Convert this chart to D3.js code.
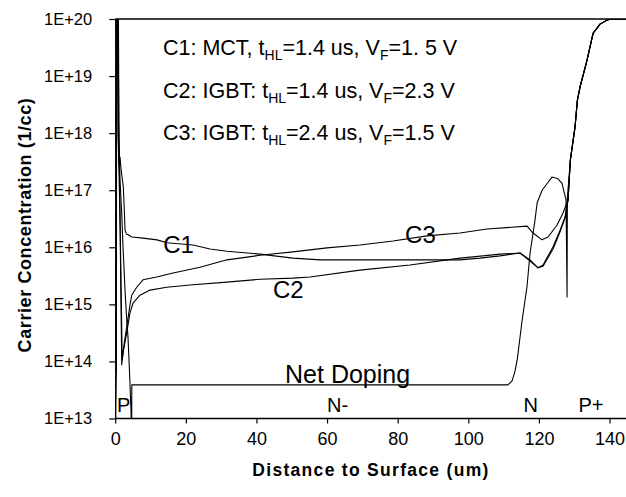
<!DOCTYPE html>
<html>
<head>
<meta charset="utf-8">
<script src="https://cdn.jsdelivr.net/npm/d3@7"></script>
<style>
  html, body { margin: 0; padding: 0; background: #fff; }
  svg { display: block; font-family: "Liberation Sans", Arial, sans-serif; }
</style>
</head>
<body>
<svg id="chart" width="626" height="497"></svg>
<script>
// Axis ticks
const xTicks = [0, 20, 40, 60, 80, 100, 120, 140];
const yTickExponents = [13, 14, 15, 16, 17, 18, 19, 20];
const yTickLabels = ["1E+13", "1E+14", "1E+15", "1E+16", "1E+17", "1E+18", "1E+19", "1E+20"];

// Profiles: [distance (um), log10 of concentration (1/cc)]
const netDoping = [
  [0, 12.9], [0.35, 13.9], [0.4, 20.4], [0.8, 20.4], [1.0, 18.2], [1.36, 17.18],
  [1.84, 16.6], [2.21, 16.01], [2.78, 15.25], [3.26, 14.73], [3.62, 14.43],
  [4.1, 13.75], [4.47, 13.15], [4.6, 12.8], [4.67, 12.8], [4.7, 13.59],
  [111.24, 13.59], [112.4, 13.66], [113.2, 13.82], [113.9, 14.05], [115.2, 14.7],
  [116.6, 15.3], [117.5, 15.9], [118.9, 16.48], [119.5, 16.78], [120.9, 17.0],
  [122.6, 17.14], [123.7, 17.23], [125.4, 17.2], [126.55, 17.12], [127.12, 16.97],
  [127.68, 16.83], [127.97, 15.13], [128.05, 16.86]
];
const c1 = [
  [0.9, 20.3], [1.1, 17.45], [1.36, 17.58], [1.6, 17.4], [2.0, 17.2], [2.29, 17.06],
  [2.58, 16.65], [2.78, 16.3], [3.2, 16.23], [3.71, 16.22], [4.76, 16.18],
  [7.87, 16.16], [11.84, 16.13], [14.67, 16.08], [22.03, 16.04], [26.85, 15.97],
  [31.66, 15.93], [41.01, 15.88], [50.35, 15.81], [58.0, 15.78], [97.65, 15.78],
  [103.31, 15.81], [109.0, 15.85], [114.64, 15.9], [117.48, 15.78], [119.75, 15.64],
  [121.17, 15.69], [124.0, 16.01], [125.99, 16.3], [127.4, 16.53], [128.25, 16.83]
];
const c2 = [
  [0.6, 20.3], [0.8, 18.0], [1.1, 17.3], [1.4, 16.3], [1.6, 15.2], [1.8, 14.2],
  [1.84, 13.94], [2.21, 14.15], [3.26, 14.5], [4.19, 14.85], [5.04, 15.02],
  [7.02, 15.16], [9.86, 15.25], [14.58, 15.3], [21.18, 15.34], [31.66, 15.39],
  [41.01, 15.44], [50.35, 15.46], [55.17, 15.48], [69.33, 15.6], [83.49, 15.69],
  [97.65, 15.81], [108.98, 15.88], [114.64, 15.9], [117.48, 15.76], [119.75, 15.64],
  [121.17, 15.67], [124.0, 15.97], [125.99, 16.27], [127.4, 16.51], [128.25, 16.83]
];
const c3 = [
  [0.7, 20.3], [0.9, 17.9], [1.2, 17.3], [1.5, 16.0], [1.8, 14.8], [1.98, 14.03],
  [2.49, 14.29], [3.34, 14.64], [4.19, 14.99], [4.67, 15.16], [6.09, 15.3],
  [7.87, 15.43], [11.75, 15.48], [16.37, 15.55], [24.02, 15.65], [31.66, 15.78],
  [41.01, 15.86], [50.35, 15.92], [59.98, 15.99], [69.33, 16.04], [78.67, 16.11],
  [88.3, 16.2], [97.65, 16.25], [105.3, 16.32], [116.63, 16.37], [118.33, 16.25],
  [120.88, 16.13], [122.58, 16.18], [125.14, 16.39], [126.83, 16.6], [127.68, 16.74],
  [128.25, 16.83]
];
// P+ anode region, where all four profiles coincide
const pPlusRegion = [
  [128.9, 17.53], [130.23, 18.11], [130.9, 18.58], [131.65, 18.81], [133.63, 19.28],
  [135.33, 19.75], [137.31, 19.91], [139.29, 19.98], [140.14, 20.0], [150, 20.0]
];

const curveLabels = [
  { text: "C1", x: 13.6, y: 15.9 },
  { text: "C2", x: 44.7, y: 15.11 },
  { text: "C3", x: 82.1, y: 16.08 }
];
const regionLabels = [
  { text: "P", x: 0.5 },
  { text: "N-", x: 60 },
  { text: "N", x: 115.6 },
  { text: "P+", x: 131.2 }
];
const legendLines = [
  ["C1: MCT, t", "HL", "=1.4 us, V", "F", "=1. 5 V"],
  ["C2: IGBT: t", "HL", "=1.4 us, V", "F", "=2.3 V"],
  ["C3: IGBT: t", "HL", "=2.4 us, V", "F", "=1.5 V"]
];

const svg = d3.select("#chart");
const W = 626, H = 497;
const plot = { left: 115.2, top: 19, bottom: 418.5 };

const x = d3.scaleLinear().domain([0, 150]).range([plot.left, 644.85]);
const y = d3.scaleLog().domain([1e13, 1e20]).range([plot.bottom, plot.top]);
const yv = e => y(Math.pow(10, e));

svg.append("rect").attr("width", W).attr("height", H).attr("fill", "#fff");

svg.append("defs").append("clipPath").attr("id", "plotClip")
  .append("rect")
  .attr("x", plot.left).attr("y", plot.top)
  .attr("width", W - plot.left).attr("height", plot.bottom - plot.top);

// Top frame line
svg.append("line")
  .attr("x1", plot.left).attr("x2", W)
  .attr("y1", plot.top).attr("y2", plot.top)
  .attr("stroke", "#000").attr("stroke-width", 1.3);

// X axis
const xAxis = d3.axisBottom(x).tickValues(xTicks).tickSize(5).tickSizeOuter(0).tickPadding(9);
const gx = svg.append("g").attr("transform", `translate(0,${plot.bottom})`).call(xAxis);
gx.select(".domain").attr("d", `M${plot.left},0H${W}`).attr("stroke-width", 1.3);
gx.selectAll(".tick line").attr("stroke-width", 1.2);
gx.selectAll(".tick text").attr("font-size", 18).attr("font-family", null).attr("fill", "#000");

// Y axis
const yAxis = d3.axisLeft(y)
  .tickValues(yTickExponents.map(e => Math.pow(10, e)))
  .tickFormat((d, i) => yTickLabels[i])
  .tickSize(6).tickSizeOuter(0).tickPadding(17);
const gy = svg.append("g").attr("transform", `translate(${plot.left},0)`).call(yAxis);
gy.select(".domain").attr("stroke-width", 1.3);
gy.selectAll(".tick line").attr("stroke-width", 1.2);
gy.selectAll(".tick text").attr("font-size", 16.5).attr("font-family", null).attr("fill", "#000");

// Axis titles
svg.append("text")
  .attr("x", 371).attr("y", 476)
  .attr("text-anchor", "middle")
  .attr("font-size", 17.5).attr("font-weight", "bold")
  .attr("letter-spacing", 1.3)
  .text("Distance to Surface (um)");
svg.append("text")
  .attr("transform", "translate(31,225) rotate(-90)")
  .attr("text-anchor", "middle")
  .attr("font-size", 18).attr("font-weight", "bold")
  .attr("letter-spacing", 0.6)
  .text("Carrier Concentration (1/cc)");

// Profiles
const line = d3.line().x(d => x(d[0])).y(d => yv(d[1]));
const curves = svg.append("g").attr("clip-path", "url(#plotClip)");
[netDoping, c1, c2, c3].forEach(s => {
  curves.append("path")
    .attr("d", line(s.concat(pPlusRegion)))
    .attr("fill", "none")
    .attr("stroke", "#000")
    .attr("stroke-width", 1.1)
    .attr("stroke-linejoin", "round");
});

// Curve labels
svg.selectAll(".clabel").data(curveLabels).join("text")
  .attr("class", "clabel")
  .attr("x", d => x(d.x)).attr("y", d => yv(d.y))
  .attr("font-size", 24)
  .text(d => d.text);

svg.append("text")
  .attr("x", x(48.1)).attr("y", yv(13.62))
  .attr("font-size", 25)
  .text("Net Doping");

// Region labels
svg.selectAll(".rlabel").data(regionLabels).join("text")
  .attr("class", "rlabel")
  .attr("x", d => x(d.x)).attr("y", 412)
  .attr("font-size", 20)
  .text(d => d.text);

// Legend with subscripts
const legend = svg.append("g");
legendLines.forEach((parts, i) => {
  const t = legend.append("text")
    .attr("x", 163).attr("y", 55 + i * 42.5)
    .attr("font-size", 21.5);
  parts.forEach((p, j) => {
    const sub = j % 2 === 1;
    const ts = t.append("tspan").text(p);
    if (sub) ts.attr("font-size", 14).attr("dy", 5);
    else if (j > 0) ts.attr("dy", -5);
  });
});
</script>
</body>
</html>
